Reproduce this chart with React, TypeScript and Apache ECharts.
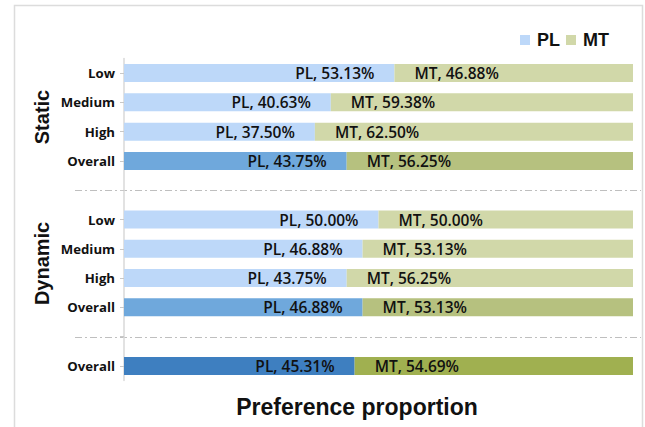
import React, { useEffect, useRef } from 'react';
import * as echarts from 'echarts';

const rowKeys = ['s-low', 's-med', 's-high', 's-all', 'gap1', 'd-low', 'd-med', 'd-high', 'd-all', 'gap2', 'all'];
const rowLabels = ['Low', 'Medium', 'High', 'Overall', '', 'Low', 'Medium', 'High', 'Overall', '', 'Overall'];
const plValues: (number | null)[] = [53.13, 40.63, 37.5, 43.75, null, 50.0, 46.88, 43.75, 46.88, null, 45.31];
const mtValues: (number | null)[] = [46.88, 59.38, 62.5, 56.25, null, 50.0, 53.13, 56.25, 53.13, null, 54.69];
const rowShade = [0, 0, 0, 1, 0, 0, 0, 0, 1, 0, 2];
const plColors = ['#bdd8f9', '#6fa8dc', '#3e7fc0'];
const mtColors = ['#d1d8a9', '#b6c17f', '#a0b050'];
const groups = [
  { name: 'Static', rows: [1, 2] },
  { name: 'Dynamic', rows: [6, 7] },
];
const separatorRows = [4, 9];
const seriesNames = ['PL', 'MT'];
const titleText = 'Preference proportion';

export default function App() {
  const ref = useRef<HTMLDivElement>(null);
  useEffect(() => {
    if (!ref.current) return;
    const chart = echarts.init(ref.current, null, { renderer: 'svg' });
    const labelFont = { fontFamily: 'Open Sans', fontWeight: 600 as any, fontSize: 15.5, color: '#111' };
    const mkData = (vals: (number | null)[], colors: string[]) =>
      vals.map((v, i) => ({ value: v, itemStyle: { color: colors[rowShade[i]] } }));
    chart.setOption({
      animation: false,
      backgroundColor: '#fff',
      legend: {
        data: seriesNames,
        right: 31,
        top: 26,
        itemWidth: 10,
        itemHeight: 10,
        itemGap: 6,
        icon: 'rect',
        textStyle: { fontFamily: 'Liberation Sans', fontWeight: 'bold', fontSize: 18, color: '#111', padding: [0, 0, 0, 2] },
      },
      grid: { left: 124, right: 12, top: 58.4, bottom: 46.4, containLabel: false },
      xAxis: { type: 'value', min: 0, max: 100, show: false },
      yAxis: {
        type: 'category',
        inverse: true,
        data: rowKeys,
        axisLine: { show: true, lineStyle: { color: '#d9d9d9', width: 1.5 } },
        axisTick: { show: true, alignWithLabel: true, length: 4, lineStyle: { color: '#c8c8c8' } },
        axisLabel: {
          formatter: (_v: string, i: number) => rowLabels[i],
          fontFamily: 'Open Sans',
          fontWeight: 'bold',
          fontSize: 13.2,
          color: '#111',
          margin: 9,
        },
      },
      series: [
        {
          name: 'PL',
          type: 'bar',
          stack: 'a',
          barWidth: 18,
          itemStyle: { color: plColors[0] },
          data: mkData(plValues, plColors),
          label: {
            show: true,
            position: 'insideRight',
            distance: 20,
            formatter: (p: any) => `PL, ${Number(p.value).toFixed(2)}%`,
            ...labelFont,
          },
        },
        {
          name: 'MT',
          type: 'bar',
          stack: 'a',
          barWidth: 18,
          itemStyle: { color: mtColors[0] },
          data: mkData(mtValues, mtColors),
          label: {
            show: true,
            position: 'insideLeft',
            distance: 20,
            formatter: (p: any) => `MT, ${Number(p.value).toFixed(2)}%`,
            ...labelFont,
          },
        },
      ],
    });

    const yOf = (i: number) => chart.convertToPixel({ yAxisIndex: 0 }, rowKeys[i]) as number;
    const graphics: any[] = [
      {
        type: 'rect',
        shape: { x: 14.5, y: 5.5, width: 628, height: 440 },
        style: { fill: 'none', stroke: '#dcdcdc', lineWidth: 1.5 },
        silent: true,
      },
      {
        type: 'text',
        x: 357,
        y: 407,
        style: {
          text: titleText,
          textAlign: 'center',
          textVerticalAlign: 'middle',
          fontFamily: 'Liberation Sans',
          fontWeight: 'bold',
          fontSize: 23,
          fill: '#111',
        },
      },
    ];
    separatorRows.forEach((r) => {
      const y = Math.round(yOf(r)) + 0.5;
      graphics.push({
        type: 'line',
        shape: { x1: 75, y1: y, x2: 641, y2: y },
        style: { stroke: '#bfbfbf', lineWidth: 1, lineDash: [7, 3, 2, 3] },
        silent: true,
      });
    });
    groups.forEach((g) => {
      const y = (yOf(g.rows[0]) + yOf(g.rows[1])) / 2;
      graphics.push({
        type: 'text',
        x: 42,
        y,
        rotation: Math.PI / 2,
        style: {
          text: g.name,
          textAlign: 'center',
          textVerticalAlign: 'middle',
          fontFamily: 'Liberation Sans',
          fontWeight: 'bold',
          fontSize: 20,
          fill: '#111',
        },
      });
    });
    chart.setOption({ graphic: graphics });
    return () => chart.dispose();
  }, []);
  return <div ref={ref} style={{ position: 'fixed', left: 0, top: 0, width: 645, height: 427 }} />;
}
